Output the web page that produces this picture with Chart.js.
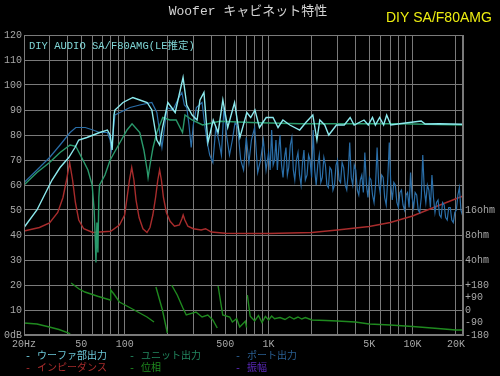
<!DOCTYPE html>
<html><head><meta charset="utf-8">
<script src="https://cdn.jsdelivr.net/npm/chart.js@4/dist/chart.umd.min.js"></script>
<style>html,body{margin:0;padding:0;background:#000;overflow:hidden}canvas{display:block}</style>
</head><body>
<canvas id="c" width="500" height="376"></canvas>
<script>
// ---- axis tick data ----
const gridFreqs = [20,30,40,50,60,70,80,90,100,200,300,400,500,600,700,800,900,1000,2000,3000,4000,5000,6000,7000,8000,9000,10000,20000];
const xTickValues = [20,50,100,500,1000,5000,10000,20000];
const xTickLabels = ['20Hz','50','100','500','1K','5K','10K','20K'];
const yTickValues = [0,10,20,30,40,50,60,70,80,90,100,110,120];
const yTickLabels = ['0dB','10','20','30','40','50','60','70','80','90','100','110','120'];
const rightTickValues = [50,40,30,20,15,10,5,0];
const rightTickLabels = ['16ohm','8ohm','4ohm','+180','+90','0','-90','-180'];

// ---- series: woofer total output (dB) ----
const wooferFreq = [20,24.6,31.3,35.6,40.9,45.2,48,54.7,67,75.9,79.3,81.9,84.3,85.6,97.4,114,127.4,143.3,154.5,167.4,175.2,183.5,199.7,224.5,254.6,270,294,318.5,333.6,355.6,379,412.5,446,481,520,580,632,706,751,804,864,962,1073,1163,1257,1403,1644,1814,2028,2166,2268,2454,2617,2961,3353,3685,3928,4598,4925,5267,5515,5906,6295,6608,7061,8140,11470,12240,15300,22200];
const wooferDb = [43,50,62,67,71,75,78,79,81,82,80,74,88,90,93,95,94,93,90,78,76,83,93,89,103,92,88,86,94,97,77,86,81,94,83,93,79,89,87,90,83,87,87,83,86,84,82,85,88,78,86,84,80,84,84,87,84,86,84,87,84,87,84,88,84,84.5,85.6,84.4,84.5,84.3];

// ---- series: unit output (dB) ----
const unitFreq = [20,24.6,30.1,35.6,41.8,45.8,51.3,55.6,59.5,61.4,62.4,63.2,64.2,65.2,66.2,67,73,79.3,92.8,103.9,112.6,127.4,136,143.3,145.5,150,157.5,167.4,184,206.3,228,252.4,262.6,294,348,458,751,1644,8140,22200];
const unitDb = [60,65,69,73,76,75.5,70,66,60,50,40,29,45,33,55,60,64,70,77,82,84.5,81,74,66,63,68,75,81,87,86,86,81,88,86,84,85.5,85,84.5,84.5,84];

// ---- series: port output (dB) ----
const portFreq = [20,24.6,30.1,35.6,41.8,45.8,53.3,60.2,67,75.9,79.3,81,85.6,92.8,109,127.4,154.5,167.4,181.6,196.9,216.6,238,
 250,260,270,280,290,300,315,330,345,360,375,390,410,430,450,470,490,510,535,560,585,610,640,670,700,730,760,800,840,880,920,960,
 1000,1025,1050,1075,1100,1125,1150,1175,1200,1230,1260,1290,1320,1350,1380,1415,1450,1485,1520,1560,1600,1640,1680,1720,1760,1800,1850,1895,1940,1990,
 2040,2090,2140,2195,2250,2305,2360,2420,2480,2540,2600,2665,2730,2800,2870,2940,3010,3085,3160,3240,3320,3405,3490,3575,3660,3750,3840,3935,4030,4130,
 4230,4335,4440,4550,4660,4780,4900,5020,5140,5270,5400,5530,5670,5810,5950,6100,6250,6400,6560,6720,6890,7060,7230,7410,7590,7780,7970,8170,8370,8580,
 8790,9010,9230,9460,9690,9930,10170,10420,10680,10940,11210,11490,11770,12060,12360,12670,12980,13300,13630,13970,14310,14670,15030,15400,15780,16170,16570,16980,17400,17830,
 18270,18720,19180,19650,20140,20640,21150,21670,22200];
const portDb = [61,66,71,76,81,83,83,82,81,81,78,74,88,89,91,92,93,89,75,91,90,95,
 97,92,91,84,75,84,91,92,93,84,77,72,69,83,78,72,91,80,72,78,85,83,70,66,79,69,78,83,65,70,78,66,
 73,66,82,68,70,78,66,74,80,68,63,71,75,64,67,76,79,66,62,70,73,64,60,69,74,62,64,72,70,63,
 82,66,60,68,72,61,63,71,68,60,59,67,66,58,60,68,70,62,61,69,67,60,58,65,77,63,60,68,66,58,
 56,62,64,57,73,60,55,63,62,56,53,60,75,61,57,64,63,55,52,62,77,60,54,61,60,53,51,57,58,52,
 50,56,57,51,65,55,51,57,56,50,49,55,72,58,53,60,58,51,64,55,49,53,54,48,47,53,52,47,46,51,
 51,46,45,49,50,56,59,50,48];

// ---- series: impedance (plotted on dB grid: 40 = 8ohm, 50 = 16ohm) ----
const impFreq = [20,25.6,30.1,34.3,37.3,39.5,41.5,43.5,45.5,48,52,60,80,92,100,104,108,112,116,120,126,134,143,150,157,164,170,175,180,186,195,207,222,240,250,255,262,275,300,340,365,400,500,1000,2000,3000,5000,7000,10000,14000,20000,22200];
const impVal = [41.6,43,44.8,49,55,62,69,62,53,46,42.5,41,41.5,44,48,55,62,67,62,54,47,42.5,41,43,48,55,62,66,62,55,49,45.5,43.5,44,46.5,48,46,43.5,42.5,42,42.5,41.2,40.7,40.6,41,42,43.4,45,47.6,51,54.5,55.5];

// ---- series: phase (plotted on dB grid: 20 = +180, 0 = -180), null = wrap ----
const phaseFreq = [20,24.6,30,35,40.9,42, 42.2, 42.5,48,53,65,79.3,80,84,92,110,143,160, 162, 165,183,198, 205,
 212,232,254,268,313,345,378,410,440, 443, 446,480,537,560,600,630,690,703, 708,
 712,745,800,850,900,950,1000,1050,1100,1200,1300,1400,1500,1600,1700,1800,2000,2500,3000,4000,5000,7000,10000,15000,20000,22200];
const phaseVal = [4.8,4.4,3.2,2.2,0.8,0.2, null, 20.8,18.5,17.2,15.5,14,18,16.5,13.2,10.8,7.2,5.2, null, 19.2,10,0.8, null,
 20,16,10.8,8,9.2,7.2,8,6,2.8, null, 19.6,8,7.2,5.2,6.5,3.2,5.5,3, null,
 16,7.5,5.6,7.8,5.0,7.4,6.0,7.6,6.5,7.0,6.2,7.3,6.4,7.2,6.4,7.0,6.0,5.8,5.6,5.2,4.4,4.0,3.4,2.6,2.0,2.0];

const toXY = (fs, vs) => fs.map((f, i) => ({x: f, y: vs[i]}));

const GRID = '#7a7a7a';
const TICK = '#a8a8a8';
const MONO = '"Liberation Mono", "DejaVu Sans Mono", monospace';

const bgPlugin = {
  id: 'bg',
  beforeDraw(chart) {
    const c = chart.ctx; c.save(); c.fillStyle = '#000'; c.fillRect(0, 0, chart.width, chart.height); c.restore();
  }
};

const textPlugin = {
  id: 'texts',
  afterDraw(chart) {
    const c = chart.ctx;
    const a = chart.chartArea;
    c.save();
    c.strokeStyle = GRID; c.lineWidth = 1;
    c.strokeRect(Math.round(a.left) + 0.5, Math.round(a.top) + 0.5, Math.round(a.right - a.left) - 1, Math.round(a.bottom - a.top) - 1);
    c.textBaseline = 'middle';
    c.textAlign = 'center';
    c.fillStyle = '#d4d4d4';
    c.font = '13px ' + MONO + ', "Noto Sans CJK JP"';
    c.fillText('Woofer キャビネット特性', 248, 12);
    c.textAlign = 'left';
    c.fillStyle = '#eeee10';
    c.font = '14px "Liberation Sans", Arial, sans-serif';
    c.fillText('DIY SA/F80AMG', 386, 18);
    c.fillStyle = '#7fd6d6';
    c.font = '10.5px ' + MONO + ', "Noto Sans CJK JP"';
    c.fillText('DIY AUDIO SA/F80AMG(LE推定)', 29, 46);
    const cols = [25, 129, 235];
    const rows = [356, 368];
    c.font = '10px ' + MONO + ', "Noto Sans CJK JP"';
    chart.data.datasets.forEach((ds, i) => {
      const x = cols[i % 3], y = rows[Math.floor(i / 3)];
      c.fillStyle = ds.legendColor || ds.borderColor;
      c.fillText('- ' + ds.label, x, y);
    });
    c.restore();
  }
};

new Chart(document.getElementById('c'), {
  type: 'scatter',
  data: {
    datasets: [
      {label: 'ウーファ部出力', data: toXY(wooferFreq, wooferDb), borderColor: '#8ceaee', legendColor: '#6cc8d8', order: 0},
      {label: 'ユニット出力', data: toXY(unitFreq, unitDb), borderColor: '#2a9a6c', legendColor: '#22875f', order: 1},
      {label: 'ポート出力', data: toXY(portFreq, portDb), borderColor: '#2a6ea8', legendColor: '#2a5f92', borderWidth: 1.2, order: 2},
      {label: 'インピーダンス', data: toXY(impFreq, impVal), borderColor: '#a82c2c', order: 3},
      {label: '位相', data: toXY(phaseFreq, phaseVal), borderColor: '#1f8a1f', order: 4},
      {label: '振幅', data: [], borderColor: '#5a28b8', order: 5}
    ]
  },
  options: {
    responsive: false,
    animation: false,
    events: [],
    layout: {padding: {top: 35, left: 0, right: 0, bottom: 0}},
    plugins: {legend: {display: false}, tooltip: {enabled: false}},
    elements: {point: {radius: 0}, line: {borderWidth: 1.4, tension: 0}},
    datasets: {scatter: {showLine: true, spanGaps: false}},
    scales: {
      x: {
        type: 'logarithmic', min: 20, max: 22400,
        afterBuildTicks: s => { s.ticks = gridFreqs.map(v => ({value: v})); },
        afterFit: s => { s.height = 41; },
        grid: {color: GRID, drawTicks: false, lineWidth: 1},
        border: {color: GRID},
        ticks: {
          color: TICK, font: {family: MONO, size: 10}, padding: 3, autoSkip: false, maxRotation: 0, minRotation: 0,
          callback: v => { const i = xTickValues.indexOf(v); return i >= 0 ? xTickLabels[i] : ''; }
        }
      },
      y: {
        position: 'left', min: 0, max: 120,
        afterBuildTicks: s => { s.ticks = yTickValues.map(v => ({value: v})); },
        afterFit: s => { s.width = 24; },
        grid: {color: GRID, drawTicks: false, lineWidth: 1},
        border: {color: GRID},
        ticks: {
          color: TICK, font: {family: MONO, size: 10}, padding: 2,
          callback: v => { const i = yTickValues.indexOf(v); return i >= 0 ? yTickLabels[i] : ''; }
        }
      },
      y2: {
        position: 'right', min: 0, max: 120,
        afterBuildTicks: s => { s.ticks = rightTickValues.map(v => ({value: v})); },
        afterFit: s => { s.width = 37; },
        grid: {display: false, drawTicks: false},
        border: {display: true, color: GRID},
        ticks: {
          color: TICK, font: {family: MONO, size: 10}, padding: 2,
          callback: v => { const i = rightTickValues.indexOf(v); return i >= 0 ? rightTickLabels[i] : ''; }
        }
      }
    }
  },
  plugins: [bgPlugin, textPlugin]
});
</script>
</body></html>
